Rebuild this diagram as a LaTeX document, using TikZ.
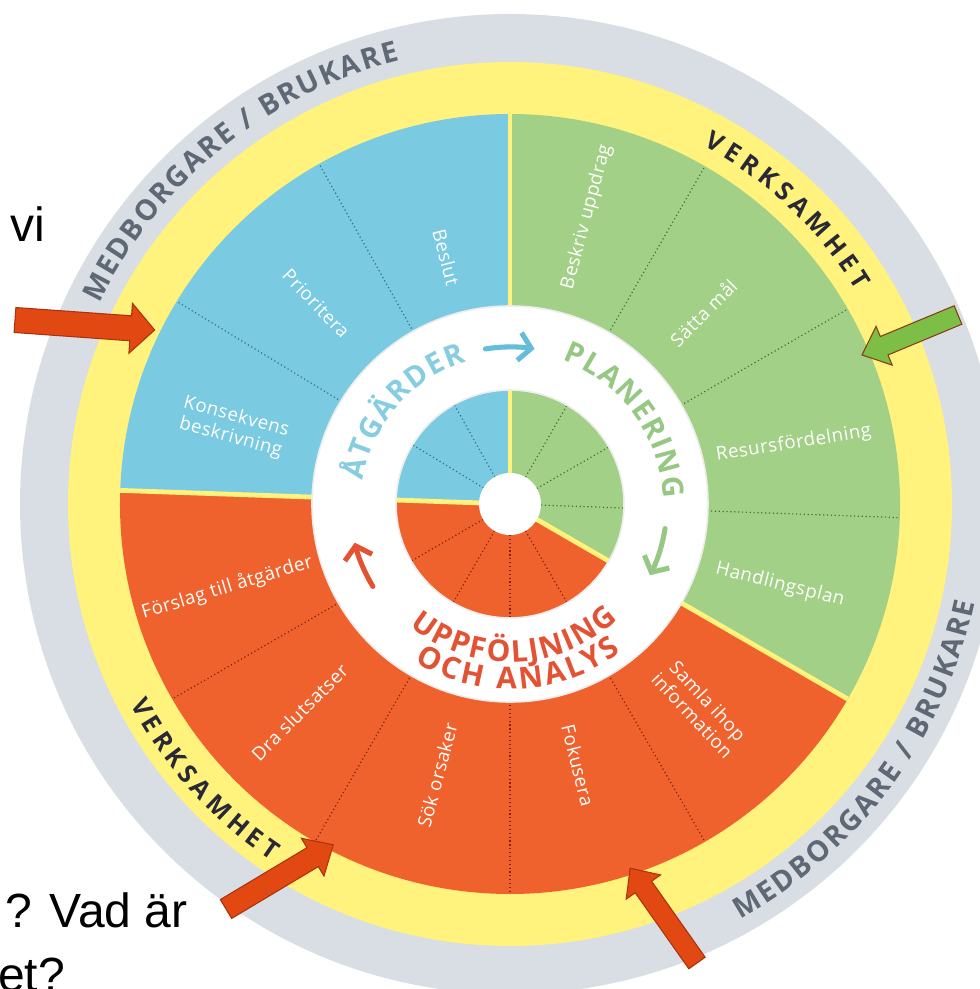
\documentclass[tikz,border=0pt]{standalone}
\usepackage{fontspec}
\setmainfont{Open Sans}
\newfontfamily\slidefont{Liberation Sans}
\usetikzlibrary{decorations.text,arrows.meta}

\definecolor{atgblue}{RGB}{122,202,225}
\definecolor{plangreen}{RGB}{163,208,135}
\definecolor{uppred}{RGB}{240,98,45}
\definecolor{ringyellow}{RGB}{255,242,125}
\definecolor{ringgrey}{RGB}{216,222,228}
\definecolor{bluedot}{RGB}{60,110,135}
\definecolor{greendot}{RGB}{70,110,60}
\definecolor{reddot}{RGB}{125,35,15}
\definecolor{atgtext}{RGB}{135,205,226}
\definecolor{plantext}{RGB}{150,200,132}
\definecolor{upptext}{RGB}{228,82,52}
\definecolor{atgarrow}{RGB}{100,190,215}
\definecolor{medtext}{RGB}{95,105,118}
\definecolor{verktext}{RGB}{40,40,55}
\definecolor{redarrow}{RGB}{226,72,18}
\definecolor{redarrowdark}{RGB}{170,50,15}
\definecolor{greenarrow}{RGB}{125,190,70}
\definecolor{greenarrowdark}{RGB}{140,60,20}

\newcommand{\ringfont}{\bfseries\fontsize{22}{26}\selectfont}
\newcommand{\uppfont}{\bfseries\fontsize{22.5}{27}\selectfont}
\newcommand{\medfont}{\bfseries\fontsize{21.5}{25}\selectfont}
\newcommand{\verkfont}{\bfseries\fontsize{19}{22}\selectfont}

% #1 style, #2 tail, #3 angle, #4 length, #5 half shaft, #6 half head, #7 head length
\newcommand{\blockarrow}[7]{%
  \begin{scope}[shift={#2},rotate=#3]
    \draw[#1] (0,-#5) -- ({#4-#7},-#5) -- ({#4-#7},-#6) -- (#4,0) -- ({#4-#7},#6) -- ({#4-#7},#5) -- (0,#5) -- cycle;
  \end{scope}}

\tikzset{
  segline/.style={dotted, line width=0.9pt},
  divider/.style={draw=ringyellow, line width=3.6pt},
  ringedge/.style={draw=black!7, line width=1.2pt},
  seglabel/.style={text=white, font=\fontsize{14}{16}\selectfont\addfontfeatures{LetterSpace=3}, align=center, inner sep=1pt},
  ringarrow/.style={line width=3.8pt, line cap=round, line join=round, -{Straight Barb[length=9pt,width=21pt]}},
  slidetext/.style={font=\slidefont\fontsize{36}{43}\selectfont, text=black, inner sep=0pt, anchor=base west},
  blockred/.style={fill=redarrow, draw=redarrowdark, line width=0.8pt},
  blockgreen/.style={fill=greenarrow, draw=greenarrowdark, line width=0.8pt},
}

\begin{document}
\begin{tikzpicture}[x=0.75pt,y=0.75pt]
\useasboundingbox (-510,-485) rectangle (470,504);
\clip (-510,-485) rectangle (470,504);
% rings
\fill[ringgrey] (0,0) circle[radius=490];
\fill[ringyellow] (0,0) circle[radius=442];
% sectors
\fill[atgblue] (0,0) -- (90:390) arc[start angle=90, end angle=178, radius=390] -- cycle;
\fill[plangreen] (0,0) -- (-30:390) arc[start angle=-30, end angle=90, radius=390] -- cycle;
\fill[uppred] (0,0) -- (178:390) arc[start angle=178, end angle=330, radius=390] -- cycle;
% steps
\foreach \a in {119.3,148.7} \draw[segline, draw=bluedot] (\a:31) -- (\a:390);
\foreach \a in {60,30,-2} \draw[segline, draw=greendot] (\a:31) -- (\a:390);
\foreach \a in {210,240,270,300} \draw[segline, draw=reddot] (\a:31) -- (\a:390);
\foreach \a in {90,178,-30} \draw[divider] (0,0) -- (\a:390);
% white ring
\fill[white, even odd rule] (0,0) circle[radius=198] circle[radius=114];
\draw[ringedge] (0,0) circle[radius=198];
\draw[ringedge] (0,0) circle[radius=114];
\fill[white] (0,0) circle[radius=31];
% ring texts
\path[decorate, decoration={text along path, text align=fit to path, text={|\ringfont\color{atgtext}|ÅTGÄRDER}}]
  (171:149) arc[start angle=171, end angle=107, radius=149];
\path[decorate, decoration={text along path, text align=fit to path, text={|\ringfont\color{plantext}|PLANERING}}]
  (70:153) arc[start angle=70, end angle=2, radius=153];
\path[decorate, decoration={text along path, text align=fit to path, text={|\uppfont\color{upptext}|UPPFÖLJNING}}]
  (230.5:158) arc[start angle=230.5, end angle=313, radius=158];
\path[decorate, decoration={text along path, text align=fit to path, text={|\uppfont\color{upptext}|OCH ANALYS}}]
  (239:185) arc[start angle=239, end angle=307, radius=185];
% ring arrows
\draw[ringarrow, atgarrow] (99:157) arc[start angle=99, end angle=81, radius=157];
\draw[ringarrow, plantext] (-9:157) arc[start angle=-9, end angle=-27, radius=157];
\draw[ringarrow, upptext] (211:160) arc[start angle=211, end angle=194, radius=160];
% step labels
\node[seglabel, rotate=-75.5] (beslut) at (104.5:255) {Beslut};
\node[seglabel, rotate=-46] (prioritera) at (134:279) {Prioritera};
\node[seglabel, rotate=-15.5] (konsekvens) at (164.5:287) {Konsekvens\\beskrivning};
\node[seglabel, rotate=75] (beskriv) at (75:297) {Beskriv uppdrag};
\node[seglabel, rotate=45] (satta) at (44.7:272) {Sätta mål};
\node[seglabel, rotate=9] (resurs) at (12:290) {Resursfördelning};
\node[seglabel, rotate=-14] (handling) at (-16.7:282) {Handlingsplan};
\node[seglabel, rotate=-47] (samla) at (-47:279) {Samla ihop\\information};
\node[seglabel, rotate=-76] (fokusera) at (-75.4:270) {Fokusera};
\node[seglabel, rotate=75] (sok) at (255:281) {Sök orsaker};
\node[seglabel, rotate=45] (dra) at (224.7:296) {Dra slutsatser};
\node[seglabel, rotate=17] (forslag) at (196.5:295) {Förslag till åtgärder};
% outer rings
\path[decorate, decoration={text along path, text align=fit to path, text={|\medfont\color{medtext}|MEDBORGARE / BRUKARE}}]
  (154:457) arc[start angle=154, end angle=104, radius=457];
\path[decorate, decoration={text along path, text align=fit to path, text={|\medfont\color{medtext}|MEDBORGARE / BRUKARE}}]
  (299:475) arc[start angle=299, end angle=348, radius=475];
\path[decorate, decoration={text along path, text align=fit to path, text={|\verkfont\color{verktext}|VERKSAMHET}}]
  (61.6:407) arc[start angle=61.6, end angle=31.6, radius=407];
\path[decorate, decoration={text along path, text align=fit to path, text={|\verkfont\color{verktext}|VERKSAMHET}}]
  (207.8:429) arc[start angle=207.8, end angle=236.2, radius=429];
% pointers
\blockarrow{blockred}{(-495,184)}{-4.1}{140}{12.5}{25}{24}
\blockarrow{blockgreen}{(448,189)}{202.6}{104}{10}{21}{24}
\blockarrow{blockred}{(-284,-405)}{30.9}{125}{11}{22}{24}
\blockarrow{blockred}{(187,-459)}{125.2}{116}{10}{21}{23}
% slide text
\node[slidetext] (vi) at (-500,262) {vi};
\node[slidetext] (vadar) at (-505,-423) {? Vad är};
\node[slidetext] (etq) at (-512,-487) {et?};
\end{tikzpicture}
\end{document}
